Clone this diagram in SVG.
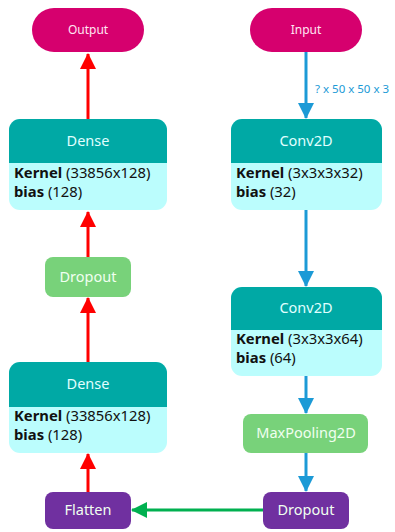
<svg xmlns="http://www.w3.org/2000/svg" width="395" height="532" viewBox="0 0 395 532">
<defs>
<style>
.pill{fill:#d6006e}
.pt{font-family:"Noto Sans","Open Sans",sans-serif;font-size:12px;fill:#ffe6f2;text-anchor:middle}
.body{fill:#bbfdfd}
.head{fill:#00a9a5}
.ht{font-family:"Noto Sans","Open Sans",sans-serif;font-size:14.5px;fill:#e0ffff;text-anchor:middle}
.bt{font-family:"Noto Sans","Open Sans",sans-serif;font-size:14.8px;fill:#111}
.b{font-weight:bold}
.gr{fill:#78d27a}
.pu{fill:#7030a0}
.lt{font-family:"Noto Sans","Open Sans",sans-serif;font-size:14.5px;fill:#f0fff0;text-anchor:middle}
.red{stroke:#ff0000;stroke-width:3;fill:none}
.blue{stroke:#1c9ad6;stroke-width:3;fill:none}
.green{stroke:#00b050;stroke-width:3;fill:none}
.lbl{font-family:"Noto Sans","Open Sans",sans-serif;font-size:11.5px;fill:#1c9ad6}
</style>
<marker id="ar" markerWidth="16" markerHeight="16" viewBox="0 0 16 16" refX="15" refY="8" orient="auto" markerUnits="userSpaceOnUse"><path d="M0,0 L16,8 L0,16 Z" fill="#ff0000"/></marker>
<marker id="ab" markerWidth="16" markerHeight="16" viewBox="0 0 16 16" refX="15" refY="8" orient="auto" markerUnits="userSpaceOnUse"><path d="M0,0 L16,8 L0,16 Z" fill="#1c9ad6"/></marker>
<marker id="ag" markerWidth="16" markerHeight="16" viewBox="0 0 16 16" refX="15" refY="8" orient="auto" markerUnits="userSpaceOnUse"><path d="M0,0 L16,8 L0,16 Z" fill="#00b050"/></marker>
</defs>

<g id="connectors">
<line class="red" x1="88" y1="119" x2="88" y2="54" marker-end="url(#ar)"/>
<line class="red" x1="88" y1="257" x2="88" y2="212" marker-end="url(#ar)"/>
<line class="red" x1="88" y1="362" x2="88" y2="298" marker-end="url(#ar)"/>
<line class="red" x1="88" y1="492" x2="88" y2="454" marker-end="url(#ar)"/>
<line class="blue" x1="306" y1="52" x2="306" y2="118" marker-end="url(#ab)"/>
<text class="lbl" x="315" y="93">? x 50 x 50 x 3</text>
<line class="blue" x1="306" y1="210" x2="306" y2="286" marker-end="url(#ab)"/>
<line class="blue" x1="306" y1="376" x2="306" y2="413" marker-end="url(#ab)"/>
<line class="blue" x1="306" y1="453" x2="306" y2="491" marker-end="url(#ab)"/>
<line class="green" x1="263" y1="510" x2="132" y2="510" marker-end="url(#ag)"/>
</g>

<g id="output">
<rect class="pill" x="32" y="8" width="112" height="44" rx="22"/>
<text class="pt" x="88" y="34">Output</text>
</g>

<g id="input">
<rect class="pill" x="250" y="8" width="112" height="44" rx="22"/>
<text class="pt" x="306" y="34">Input</text>
</g>

<g id="dense2">
<rect class="body" x="9" y="119" width="158" height="91" rx="11"/>
<path class="head" d="M9,163 V130 A11,11 0 0 1 20,119 H156 A11,11 0 0 1 167,130 V163 Z"/>
<text class="ht" x="88" y="146">Dense</text>
<text class="bt" x="14" y="178"><tspan class="b">Kernel</tspan> (33856x128)</text>
<text class="bt" x="14" y="197"><tspan class="b">bias</tspan> (128)</text>
</g>

<g id="dropout2">
<rect class="gr" x="45" y="257" width="86" height="40" rx="8"/>
<text class="lt" x="88" y="282">Dropout</text>
</g>

<g id="dense1">
<rect class="body" x="9" y="362" width="158" height="91" rx="11"/>
<path class="head" d="M9,407 V373 A11,11 0 0 1 20,362 H156 A11,11 0 0 1 167,373 V407 Z"/>
<text class="ht" x="88" y="389">Dense</text>
<text class="bt" x="14" y="421"><tspan class="b">Kernel</tspan> (33856x128)</text>
<text class="bt" x="14" y="440"><tspan class="b">bias</tspan> (128)</text>
</g>

<g id="flatten">
<rect class="pu" x="45" y="492" width="86" height="37" rx="8"/>
<text class="lt" x="88" y="515">Flatten</text>
</g>

<g id="conv1">
<rect class="body" x="231" y="119" width="151" height="91" rx="11"/>
<path class="head" d="M231,163 V130 A11,11 0 0 1 242,119 H371 A11,11 0 0 1 382,130 V163 Z"/>
<text class="ht" x="306" y="146">Conv2D</text>
<text class="bt" x="236" y="178"><tspan class="b">Kernel</tspan> (3x3x3x32)</text>
<text class="bt" x="236" y="197"><tspan class="b">bias</tspan> (32)</text>
</g>

<g id="conv2">
<rect class="body" x="231" y="287" width="151" height="89" rx="11"/>
<path class="head" d="M231,330 V298 A11,11 0 0 1 242,287 H371 A11,11 0 0 1 382,298 V330 Z"/>
<text class="ht" x="306" y="313">Conv2D</text>
<text class="bt" x="236" y="344"><tspan class="b">Kernel</tspan> (3x3x3x64)</text>
<text class="bt" x="236" y="363"><tspan class="b">bias</tspan> (64)</text>
</g>

<g id="maxpool">
<rect class="gr" x="243" y="414" width="125" height="39" rx="8"/>
<text class="lt" x="306" y="438">MaxPooling2D</text>
</g>

<g id="dropout1">
<rect class="pu" x="263" y="492" width="86" height="37" rx="8"/>
<text class="lt" x="306" y="515">Dropout</text>
</g>
</svg>
